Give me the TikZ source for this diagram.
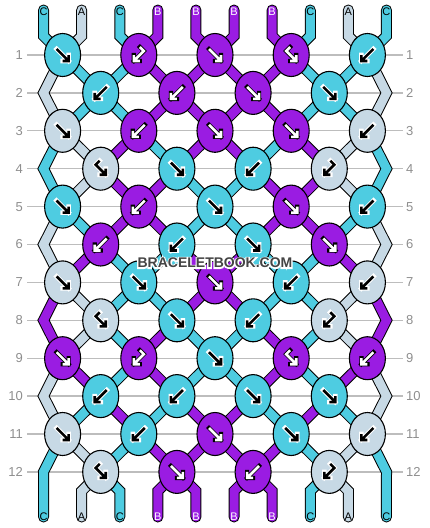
\documentclass[tikz,border=0pt]{standalone}
\usepackage{fontspec}
\setmainfont{Liberation Sans}
\usetikzlibrary{shapes.geometric,backgrounds}

\definecolor{strA}{HTML}{C7D9E5}
\definecolor{strB}{HTML}{9A1CE2}
\definecolor{strC}{HTML}{4ECCE1}
\definecolor{gridgray}{HTML}{BDBDBD}
\definecolor{numgray}{HTML}{8E8E8E}
\definecolor{wmgray}{HTML}{444444}

\tikzset{
  fwd/.pic={\draw[arrhalo] (-6,-6) -- (6,6) (0,6) -- (6,6) -- (6,0);
            \draw[arrmain] (-6,-6) -- (6,6) (0,6) -- (6,6) -- (6,0);},
  bwd/.pic={\draw[arrhalo] (6,-6) -- (-6,6) (0,6) -- (-6,6) -- (-6,0);
            \draw[arrmain] (6,-6) -- (-6,6) (0,6) -- (-6,6) -- (-6,0);},
  hkl/.pic={\draw[arrhalo] (1,-8) -- (5,-4) -- (-5,6) (1,6) -- (-5,6) -- (-5,0);
            \draw[arrmain] (1,-8) -- (5,-4) -- (-5,6) (1,6) -- (-5,6) -- (-5,0);},
  hkr/.pic={\draw[arrhalo] (-1,-8) -- (-5,-4) -- (5,6) (-1,6) -- (5,6) -- (5,0);
            \draw[arrmain] (-1,-8) -- (-5,-4) -- (5,6) (-1,6) -- (5,6) -- (5,0);}
}

\begin{document}
\begin{tikzpicture}[x=1pt,y=-1pt,
  knot/.style={ellipse,draw,line width=1.1pt,minimum width=36pt,minimum height=43pt,inner sep=0pt},
  thread/.style={double=#1,double distance=9pt,line width=1pt,line cap=round,line join=miter},
  gridline/.style={gridgray,line width=1.3pt},
  rownum/.style={numgray,inner sep=0pt,font=\fontsize{13}{13}\selectfont},
  endlabel/.style={inner sep=0pt,font=\fontsize{11}{11}\selectfont},
  wmark/.style={inner sep=0pt,font=\bfseries\fontsize{14}{14}\selectfont},
  arrA/.style={arrmain/.style={black,line width=2.6pt,line join=miter},
               arrhalo/.style={white,line width=4.6pt,line cap=rect,line join=miter}},
  arrC/.style={arrA},
  arrB/.style={arrmain/.style={white,line width=2.6pt,line join=miter},
               arrhalo/.style={black,line width=4.2pt,line cap=rect,line join=miter}},
  txtA/.style={text=black},txtC/.style={text=black},txtB/.style={text=white}]
\useasboundingbox (0,0) rectangle (430,528);

% knots, row by row
\foreach \r/\row in {1/{C/fwd,B/hkl,B/fwd,B/hkr,C/bwd},
                     2/{C/bwd,B/bwd,B/fwd,C/fwd},
                     3/{A/fwd,B/bwd,B/fwd,B/fwd,A/bwd},
                     4/{A/hkr,C/fwd,C/bwd,A/hkl},
                     5/{C/fwd,B/bwd,C/fwd,B/fwd,C/bwd},
                     6/{B/bwd,C/bwd,C/fwd,B/fwd},
                     7/{A/fwd,C/fwd,B/fwd,C/bwd,A/bwd},
                     8/{A/hkr,C/fwd,C/bwd,A/hkl},
                     9/{B/fwd,B/hkl,C/fwd,B/hkr,B/bwd},
                     10/{C/bwd,C/bwd,C/fwd,C/fwd},
                     11/{A/fwd,C/bwd,B/fwd,C/fwd,A/bwd},
                     12/{A/hkr,B/fwd,B/bwd,A/hkl}}{
  \pgfmathsetmacro\yy{55+(\r-1)*37.9}
  \foreach \c/\t [count=\j] in \row {
    \ifodd\r \pgfmathsetmacro\xx{215+(\j-3)*76.2}\else \pgfmathsetmacro\xx{215+(\j-2.5)*76.2}\fi
    \node[knot,fill=str\c] (kn\r-\j) at (\xx,\yy) {};
    \pic[arr\c] at (kn\r-\j) {\t};
  }
}

\begin{pgfonlayer}{background}
% row lines and numbers
\foreach \r in {1,...,12}{
  \pgfmathsetmacro\yy{55+(\r-1)*37.9}
  \draw[gridline] (27,\yy) -- (403,\yy);
  \node[rownum,anchor=east] (ln\r) at (23,\yy) {\r};
  \node[rownum,anchor=west] (rn\r) at (406,\yy) {\r};
  \ifodd\r\else
    \coordinate (zl\r) at (43.5,\yy);
    \coordinate (zr\r) at (386.5,\yy);
  \fi
}

% outer threads
\foreach \r/\c in {1/A,3/C,5/A,7/B,9/A}{
  \pgfmathtruncatemacro\rr{\r+1}
  \pgfmathtruncatemacro\rrr{\r+2}
  \draw[thread=str\c] (kn\r-1.center) -- (zl\rr) -- (kn\rrr-1.center);
  \draw[thread=str\c] (kn\r-5.center) -- (zr\rr) -- (kn\rrr-5.center);
}

% inner threads, colour of each position after row r
\foreach \r/\st in {1/{A,C,C,B,B,B,B,C,C,A},
                    2/{A,C,C,B,B,B,B,C,C,A},
                    3/{C,A,B,C,B,B,C,B,A,C},
                    4/{C,A,B,B,C,C,B,B,A,C},
                    5/{A,C,B,B,C,C,B,B,C,A},
                    6/{A,B,C,C,B,B,C,C,B,A},
                    7/{B,A,C,C,B,B,C,C,A,B},
                    8/{B,A,C,B,C,C,B,C,A,B},
                    9/{A,B,C,B,C,C,B,C,B,A},
                    10/{A,C,B,C,B,B,C,B,C,A},
                    11/{C,A,C,B,B,B,B,C,A,C}}{
  \pgfmathtruncatemacro\rr{\r+1}
  \foreach \c [count=\p] in \st {
    \ifnum\p>1 \ifnum\p<10
      \ifodd\r
        \pgfmathtruncatemacro\ja{(\p+1)/2}\pgfmathtruncatemacro\jb{\p/2}
      \else
        \pgfmathtruncatemacro\ja{\p/2}\pgfmathtruncatemacro\jb{(\p+1)/2}
      \fi
      \draw[thread=str\c] (kn\r-\ja.center) -- (kn\rr-\jb.center);
    \fi\fi
  }
}

% thread ends, top
\foreach \c [count=\p] in {C,A,C,B,B,B,B,C,A,C}{
  \pgfmathsetmacro\xx{215+(\p-5.5)*38.1}
  \pgfmathtruncatemacro\j{(\p+1)/2}
  \coordinate (tp\p) at (\xx,10);
  \coordinate (tb\p) at (\xx,36);
  \draw[thread=str\c] (tp\p) -- (tb\p) -- (kn1-\j.center);
  \node[endlabel,txt\c] (tl\p) at (\xx,12) {\c};
}

% thread ends, bottom
\foreach \c [count=\p] in {C,A,C,B,B,B,B,C,A,C}{
  \pgfmathsetmacro\xx{215+(\p-5.5)*38.1}
  \coordinate (bb\p) at (\xx,491);
  \coordinate (bt\p) at (\xx,517);
  \ifnum\p=1 \draw[thread=str\c] (kn11-1.center) -- (zl12) -- (bt\p); \fi
  \ifnum\p=10 \draw[thread=str\c] (kn11-5.center) -- (zr12) -- (bt\p); \fi
  \ifnum\p>1 \ifnum\p<10
    \pgfmathtruncatemacro\j{\p/2}
    \draw[thread=str\c] (kn12-\j.center) -- (bb\p) -- (bt\p);
  \fi\fi
  \node[endlabel,txt\c] (bl\p) at (\xx,517) {\c};
}
\end{pgfonlayer}

% watermark: white stroked outline, then dark fill
\node[wmark,white] (wmo) at (215,263)
  {\special{pdf:literal direct 1 Tr 1 1 1 RG 2.6 w}BRACELETBOOK.COM\special{pdf:literal direct 0 Tr 1 w}};
\node[wmark,wmgray] (wm) at (215,263) {BRACELETBOOK.COM};
\end{tikzpicture}
\end{document}
